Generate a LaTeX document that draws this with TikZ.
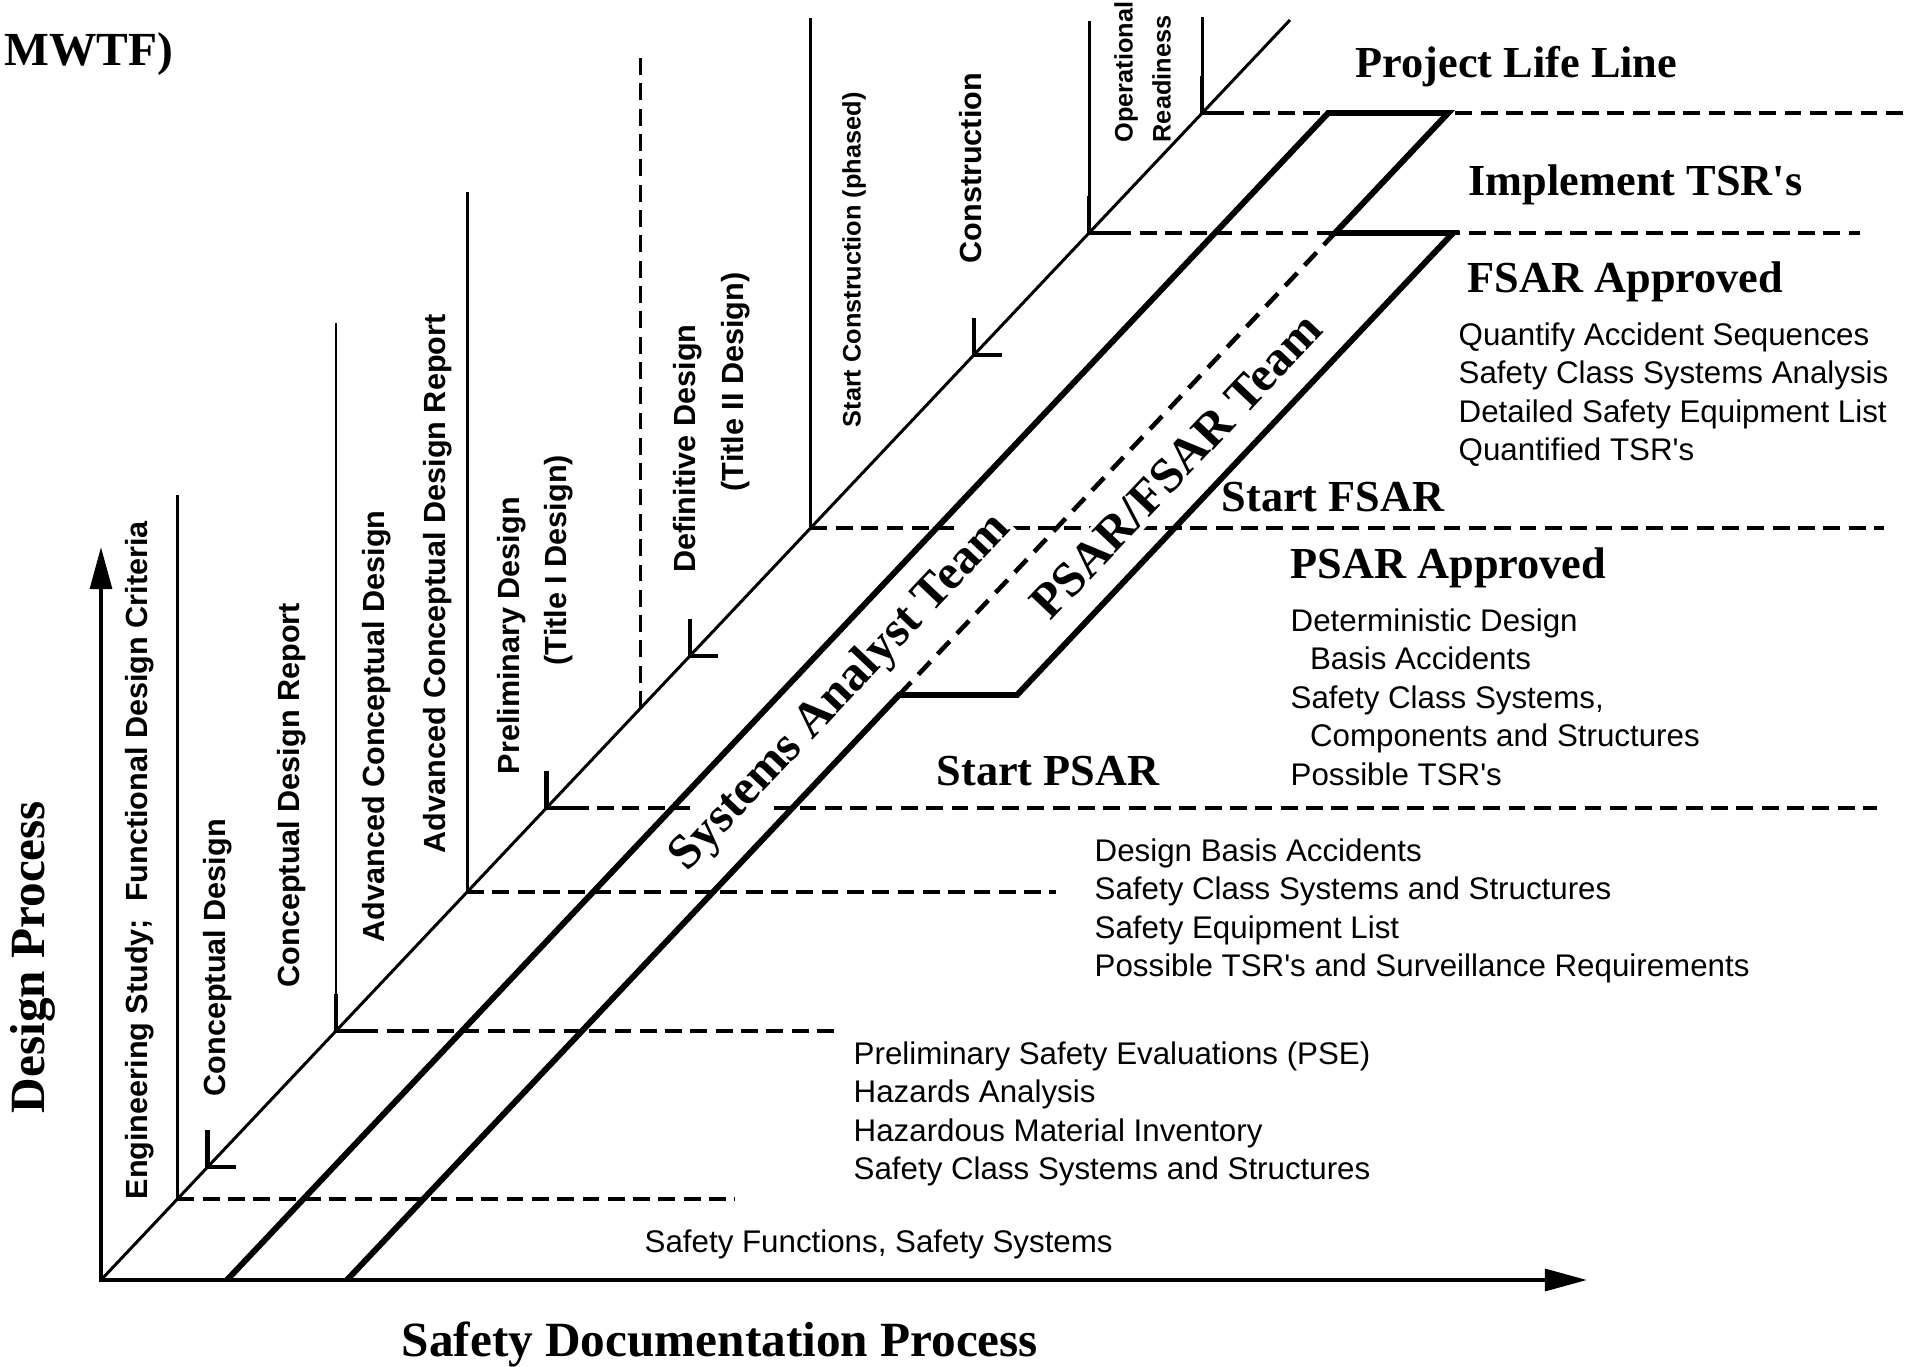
\documentclass[tikz,border=0pt]{standalone}
\usepackage{fontspec}
\setmainfont{Liberation Serif}
\setsansfont{Liberation Sans}
\usetikzlibrary{arrows.meta,positioning}

\begin{document}
\begin{tikzpicture}[x=0.01cm,y=-0.01cm,
    life/.style={line width=0.85pt},
    band/.style={line width=1.7pt},
    tick/.style={line width=1.25pt},
    guide/.style={line width=0.9pt,dash pattern=on 4.8pt off 2.4pt},
    axis/.style={line width=1.15pt,{Triangle[length=12pt,width=6.2pt]}-{Triangle[length=12pt,width=6.2pt]}},
    phase/.style={rotate=90,anchor=west,inner sep=0pt,font=\sffamily\bfseries\fontsize{8.7}{10}\selectfont},
    smallphase/.style={phase,font=\sffamily\bfseries\fontsize{7.2}{8.6}\selectfont},
    stage/.style={anchor=base west,inner sep=0pt,font=\bfseries\fontsize{12.6}{15}\selectfont},
    items/.style={anchor=north west,inner sep=0pt,align=left,font=\sffamily\fontsize{8.9}{10.95}\selectfont},
    team/.style={rotate=46.6,fill=white,inner sep=1pt,font=\bfseries\fontsize{14}{16}\selectfont},
    process/.style={inner sep=0pt,font=\bfseries\fontsize{14}{16}\selectfont}]
    \useasboundingbox (0,0) rectangle (1905,1367);

    \coordinate (O) at (101,1280);
    \coordinate (T) at (1290,20);
    \coordinate (ytip) at (101,547);
    \coordinate (xtip) at (1587,1280);

    \coordinate (eng) at (177.4,1199);
    \coordinate (cd) at (207.6,1167);
    \coordinate (cdr) at (336,1031);
    \coordinate (acd) at (467.1,892);
    \coordinate (pd) at (546.4,808);
    \coordinate (dd) at (640.8,708);
    \coordinate (dds) at (689.8,656);
    \coordinate (sc) at (810.6,528);
    \coordinate (con) at (973.9,355);
    \coordinate (opr) at (1089,233);
    \coordinate (ops) at (1202.2,113);

    \coordinate (engtop) at (177.4,495);
    \coordinate (cdrtop) at (336,323);
    \coordinate (acdtop) at (467.1,192);
    \coordinate (ddtop) at (640.8,51);
    \coordinate (sctop) at (810.6,18);
    \coordinate (oprtop) at (1089,21);
    \coordinate (opstop) at (1202.2,17);

    \coordinate (engend) at (735,1199);
    \coordinate (cdrend) at (839,1031);
    \coordinate (acdend) at (1056,892);
    \coordinate (pdend) at (1877,808);
    \coordinate (scend) at (1884,528);
    \coordinate (oprend) at (1860,233);
    \coordinate (opsend) at (1905,113);

    \coordinate (b1) at (227,1280);
    \coordinate (b2) at (1328.2,113);
    \coordinate (b3) at (1448.2,113);
    \coordinate (b4) at (1335,233);
    \coordinate (b5) at (1453,233);
    \coordinate (b6) at (1017,695);
    \coordinate (b7) at (899,695);
    \coordinate (b8) at (347,1280);

    \draw[guide] (eng) -- (engend);
    \draw[guide] (cdr) -- (cdrend);
    \draw[guide] (acd) -- (acdend);
    \draw[guide] (pd) -- (pdend);
    \draw[guide] (sc) -- (scend);
    \draw[guide] (opr) -- (oprend);
    \draw[guide] (ops) -- (opsend);
    \draw[guide] (dd) -- (ddtop);

    \draw[life] (eng) -- (engtop);
    \draw[life] (cdr) -- (cdrtop);
    \draw[life] (acd) -- (acdtop);
    \draw[life] (sc) -- (sctop);
    \draw[life] (opr) -- (oprtop);
    \draw[life] (ops) -- (opstop);
    \draw[life] (O) -- (T);

    \draw[tick] (cd) ++(0,-37) -- (cd) -- ++(28,0);
    \draw[tick] (cdr) ++(0,-37) -- (cdr) -- ++(28,0);
    \draw[tick] (pd) ++(0,-37) -- (pd) -- ++(28,0);
    \draw[tick] (dds) ++(0,-37) -- (dds) -- ++(28,0);
    \draw[tick] (con) ++(0,-37) -- (con) -- ++(28,0);
    \draw[tick] (opr) ++(0,-37) -- (opr) -- ++(28,0);
    \draw[tick] (ops) ++(0,-37) -- (ops) -- ++(28,0);

    \draw[band] (b1) -- (b2) -- (b3) -- (b4) -- (b5) -- (b6) -- (b7) -- (b8);
    \draw[line width=1.3pt,dash pattern=on 5pt off 3pt] (b7) -- (b4);

    \draw[axis] (ytip) -- (O) -- (xtip);

    \node[phase] (engl) at (140,1200) {Engineering Study;~ Functional Design Criteria};
    \node[phase] (cdl) at (217.5,1097) {Conceptual Design};
    \node[phase] (cdrl) at (291.6,988) {Conceptual Design Report};
    \node[phase] (acdl) at (376.7,943) {Advanced Conceptual Design};
    \node[phase] (acdrl) at (437.4,854) {Advanced Conceptual Design Report};
    \node[phase] (pdl) at (511.5,775) {Preliminary Design};
    \node[phase] (pdt) at (559,666) {(Title I Design)};
    \node[phase] (ddl) at (687.7,573.5) {Definitive Design};
    \node[phase] (ddt) at (736,492) {(Title II Design)};
    \node[smallphase] (scl) at (854,428) {Start Construction (phased)};
    \node[phase] (conl) at (971,264) {Construction};
    \node[smallphase] (opl) at (1126,143) {Operational};
    \node[smallphase] (rdl) at (1161.5,143) {Readiness};

    \node[stage,font=\bfseries\fontsize{13.5}{16}\selectfont] (mwtf) at (4,66) {MWTF)};
    \node[stage] (lifeline) at (1355,78) {Project Life Line};
    \node[stage] (impl) at (1468,196) {Implement TSR\textquotesingle s};
    \node[stage] (fsarok) at (1467,293) {FSAR Approved};
    \node[stage] (fsar) at (1221,512) {Start FSAR};
    \node[stage] (psarok) at (1290,579) {PSAR Approved};
    \node[stage] (psar) at (936,786) {Start PSAR};

    \node[items] (fsaritems) at (1458,322) {Quantify Accident Sequences\\Safety Class Systems Analysis\\Detailed Safety Equipment List\\Quantified TSR\textquotesingle s};
    \node[items] (psaritems) at (1290,608) {Deterministic Design\\\hspace*{5.5pt}Basis Accidents\\Safety Class Systems,\\\hspace*{5.5pt}Components and Structures\\Possible TSR\textquotesingle s};
    \node[items] (dbaitems) at (1094,838) {Design Basis Accidents\\Safety Class Systems and Structures\\Safety Equipment List\\Possible TSR\textquotesingle s and Surveillance Requirements};
    \node[items] (pseitems) at (853,1041) {Preliminary Safety Evaluations (PSE)\\Hazards Analysis\\Hazardous Material Inventory\\Safety Class Systems and Structures};
    \node[items,anchor=base west] (sfitems) at (644,1252) {Safety Functions, Safety Systems};

    \node[team] (sat) at (841,693) {Systems Analyst Team};
    \node[team] (pft) at (1176,466) {PSAR/FSAR Team};

    \node[process,rotate=90] (dp) at (33,957) {Design Process};
    \node[process,anchor=base] (sdp) at (720,1356) {Safety Documentation Process};
\end{tikzpicture}
\end{document}
